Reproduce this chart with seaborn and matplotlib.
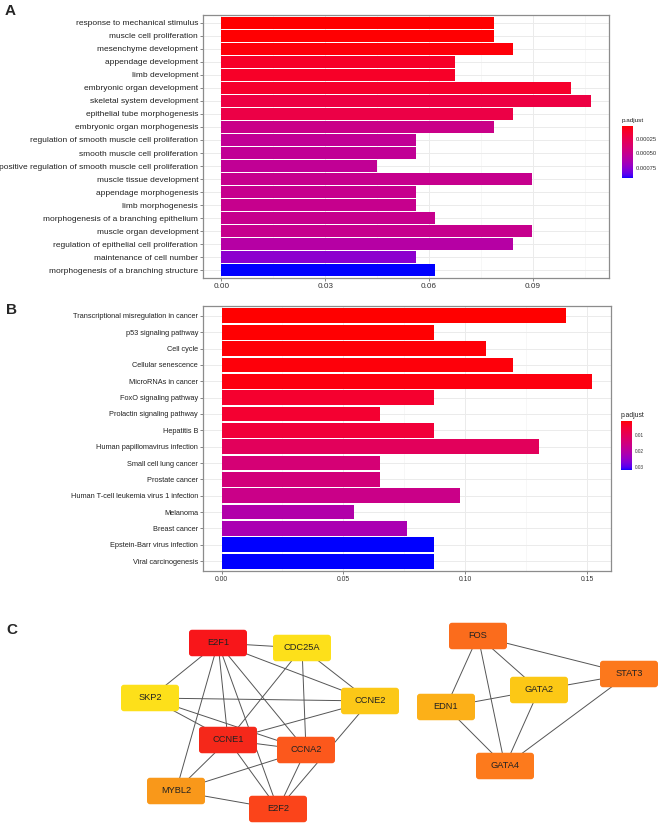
import numpy as np
import pandas as pd
import matplotlib
matplotlib.use("Agg")
import matplotlib.pyplot as plt
import seaborn as sns
from matplotlib.colors import ListedColormap, Normalize
from matplotlib.cm import ScalarMappable
from matplotlib.patches import FancyBboxPatch
from matplotlib.ticker import MultipleLocator, FormatStrFormatter

# ---- panel A: GO terms ----
go_terms = [
    "response to mechanical stimulus", "muscle cell proliferation", "mesenchyme development",
    "appendage development", "limb development", "embryonic organ development",
    "skeletal system development", "epithelial tube morphogenesis", "embryonic organ morphogenesis",
    "regulation of smooth muscle cell proliferation", "smooth muscle cell proliferation",
    "positive regulation of smooth muscle cell proliferation", "muscle tissue development",
    "appendage morphogenesis", "limb morphogenesis", "morphogenesis of a branching epithelium",
    "muscle organ development", "regulation of epithelial cell proliferation",
    "maintenance of cell number", "morphogenesis of a branching structure",
]
go_ratio = [0.0787, 0.0787, 0.0843, 0.0674, 0.0674, 0.1011, 0.1067, 0.0843, 0.0787, 0.0562,
            0.0562, 0.0449, 0.0899, 0.0562, 0.0562, 0.0618, 0.0899, 0.0843, 0.0562, 0.0618]
go_padj = [0.000035, 0.00004, 0.00005, 0.00012, 0.00012, 0.00013, 0.00021, 0.00022, 0.00048, 0.00053,
           0.00053, 0.00053, 0.0005, 0.0005, 0.0005, 0.0005, 0.0005, 0.00059, 0.00075, 0.00093]
go_padj_range = [0.000033, 0.00093]
go_cbar_ticks = [0.00025, 0.0005, 0.00075]
go_x_ticks = [0.0, 0.03, 0.06, 0.09]

# ---- panel B: KEGG pathways ----
kegg_terms = [
    "Transcriptional misregulation in cancer", "p53 signaling pathway", "Cell cycle",
    "Cellular senescence", "MicroRNAs in cancer", "FoxO signaling pathway",
    "Prolactin signaling pathway", "Hepatitis B", "Human papillomavirus infection",
    "Small cell lung cancer", "Prostate cancer", "Human T-cell leukemia virus 1 infection",
    "Melanoma", "Breast cancer", "Epstein-Barr virus infection", "Viral carcinogenesis",
]
kegg_ratio = [0.1413, 0.0870, 0.1087, 0.1196, 0.1522, 0.0870, 0.0652, 0.0870, 0.1304,
              0.0652, 0.0652, 0.0978, 0.0543, 0.0761, 0.0870, 0.0870]
kegg_padj = [0.0011, 0.0013, 0.0015, 0.0017, 0.0019, 0.0048, 0.005, 0.006, 0.0104,
             0.014, 0.0145, 0.0165, 0.021, 0.022, 0.032, 0.032]
kegg_padj_range = [0.0011, 0.032]
kegg_cbar_ticks = [0.01, 0.02, 0.03]
kegg_x_ticks = [0.0, 0.05, 0.10, 0.15]

# ---- panel C: hub gene network ----
node_names = ["E2F1", "CDC25A", "SKP2", "CCNE2", "CCNE1", "CCNA2", "MYBL2", "E2F2",
              "FOS", "STAT3", "GATA2", "EDN1", "GATA4"]
node_x = [218, 302, 150, 370, 228, 306, 176, 278, 478, 629, 539, 446, 505]
node_y = [643, 648, 698, 701, 740, 750, 791, 809, 636, 674, 690, 707, 766]
node_colors = ["#F8161A", "#FDE01A", "#FDE01A", "#FCC817", "#F5281A", "#FC581C", "#F9981A", "#FB441A",
               "#FB6C1C", "#FC781C", "#FCC815", "#FCB018", "#FD7A1C"]
edges = [
    ("E2F1", "CDC25A"), ("E2F1", "SKP2"), ("E2F1", "CCNE2"), ("E2F1", "CCNE1"), ("E2F1", "MYBL2"),
    ("E2F1", "E2F2"), ("E2F1", "CCNA2"), ("CDC25A", "CCNE1"), ("CDC25A", "CCNA2"), ("CDC25A", "CCNE2"),
    ("SKP2", "CCNE2"), ("SKP2", "CCNE1"), ("SKP2", "CCNA2"), ("CCNE2", "CCNE1"), ("CCNE2", "E2F2"),
    ("CCNE1", "CCNA2"), ("CCNE1", "MYBL2"), ("CCNE1", "E2F2"), ("CCNA2", "MYBL2"), ("CCNA2", "E2F2"),
    ("MYBL2", "E2F2"),
    ("FOS", "STAT3"), ("FOS", "EDN1"), ("FOS", "GATA4"), ("FOS", "GATA2"), ("GATA2", "STAT3"),
    ("GATA2", "EDN1"), ("GATA2", "GATA4"), ("EDN1", "GATA4"), ("STAT3", "GATA4"),
]

# red -> blue gradient interpolated in CIELAB (like ggplot's continuous fill)
_M = np.array([[0.4124, 0.3576, 0.1805], [0.2126, 0.7152, 0.0722], [0.0193, 0.1192, 0.9505]])
_WP = np.array([0.95047, 1.0, 1.08883])


def srgb_to_lab(c):
    c = np.asarray(c, float)
    lin = np.where(c <= 0.04045, c / 12.92, ((c + 0.055) / 1.055) ** 2.4)
    xyz = _M @ lin / _WP
    f = np.where(xyz > 0.008856, np.cbrt(xyz), 7.787 * xyz + 16 / 116)
    return np.array([116 * f[1] - 16, 500 * (f[0] - f[1]), 200 * (f[1] - f[2])])


def lab_to_srgb(lab):
    L, a, b = lab
    fy = (L + 16) / 116
    f = np.array([fy + a / 500, fy, fy - b / 200])
    xyz = np.where(f ** 3 > 0.008856, f ** 3, (f - 16 / 116) / 7.787) * _WP
    lin = np.clip(np.linalg.inv(_M) @ xyz, 0, 1)
    c = np.where(lin <= 0.0031308, 12.92 * lin, 1.055 * lin ** (1 / 2.4) - 0.055)
    return np.clip(c, 0, 1)


lab_lo, lab_hi = srgb_to_lab([1, 0, 0]), srgb_to_lab([0, 0, 1])
cmap = ListedColormap([lab_to_srgb(lab_lo + t * (lab_hi - lab_lo)) for t in np.linspace(0, 1, 256)])

sns.set_style("white")
plt.rcParams["font.family"] = ["Liberation Sans", "DejaVu Sans"]

fig = plt.figure(figsize=(6.6, 8.24), dpi=100)


def enrich_bar(ax, cax, terms, ratio, padj, prange, cbar_ticks, x_ticks,
               lab_size, xt_size, cb_size, title_size):
    norm = Normalize(*prange)
    df = pd.DataFrame({"term": terms, "ratio": ratio})
    pal = {t: cmap(norm(p)) for t, p in zip(terms, padj)}
    ax.set_axisbelow(True)
    sns.barplot(data=df, x="ratio", y="term", hue="term", palette=pal, legend=False,
                width=0.9, saturation=1, linewidth=0, ax=ax)
    n = len(terms)
    top = max(ratio)
    ax.set_ylim(n - 1 + 0.6, -0.6)
    ax.set_xlim(-0.05 * top, 1.05 * top)
    ax.set_xticks(x_ticks)
    ax.xaxis.set_major_formatter(FormatStrFormatter("%.2f"))
    step = x_ticks[1] - x_ticks[0]
    ax.xaxis.set_minor_locator(MultipleLocator(step / 2))
    ax.grid(which="major", color="#EBEBEB", lw=0.7)
    ax.grid(which="minor", axis="x", color="#F4F4F4", lw=0.5)
    ax.set_xlabel("")
    ax.set_ylabel("")
    ax.tick_params(axis="y", labelsize=lab_size, length=2, width=0.5, color="#555555",
                   labelcolor="#222222", pad=1.5, left=True)
    ax.tick_params(axis="x", labelsize=xt_size, length=2, width=0.5, color="#555555",
                   labelcolor="#333333", pad=1.5, bottom=True)
    ax.tick_params(which="minor", length=0)
    for s in ax.spines.values():
        s.set_color("#8C8C8C")
        s.set_linewidth(0.9)

    cb = fig.colorbar(ScalarMappable(norm=norm, cmap=cmap), cax=cax)
    cb.outline.set_visible(False)
    cb.set_ticks(cbar_ticks)
    cb.ax.yaxis.set_major_formatter(FormatStrFormatter("%.5f" if cbar_ticks[0] < 0.001 else "%.2f"))
    cax.tick_params(direction="in", length=2.5, width=0.5, color="white", left=True, right=True,
                    labelsize=cb_size, labelcolor="#333333", pad=2)
    cax.invert_yaxis()
    cax.set_title("p.adjust", loc="left", fontsize=title_size, color="#222222", pad=3)


W, H = 660, 824


def box(x0, y0, x1, y1):
    return [x0 / W, 1 - y1 / H, (x1 - x0) / W, (y1 - y0) / H]


ax_a = fig.add_axes(box(203, 15, 609, 278))
cax_a = fig.add_axes(box(622, 126, 633, 178))
enrich_bar(ax_a, cax_a, go_terms, go_ratio, go_padj, go_padj_range, go_cbar_ticks, go_x_ticks,
           6.0, 5.9, 4.2, 4.6)

ax_b = fig.add_axes(box(203, 306, 611, 571))
cax_b = fig.add_axes(box(621, 421, 632, 470))
enrich_bar(ax_b, cax_b, kegg_terms, kegg_ratio, kegg_padj, kegg_padj_range, kegg_cbar_ticks, kegg_x_ticks,
           5.3, 4.9, 3.4, 4.9)

# network panel, data units = image pixels
ax_c = fig.add_axes(box(0, 580, 660, 824))
ax_c.set_xlim(0, W)
ax_c.set_ylim(824, 580)
ax_c.axis("off")
pos = {n: (x, y) for n, x, y in zip(node_names, node_x, node_y)}
for a, b in edges:
    ax_c.plot([pos[a][0], pos[b][0]], [pos[a][1], pos[b][1]], color="#555555", lw=0.7, zorder=1)
bw, bh, r = 58, 26.5, 3
for n, c in zip(node_names, node_colors):
    x, y = pos[n]
    ax_c.add_patch(FancyBboxPatch((x - bw / 2 + r, y - bh / 2 + r), bw - 2 * r, bh - 2 * r,
                                  boxstyle=f"round,pad={r}", fc=c, ec="none", zorder=2))
    ax_c.text(x, y, n, ha="center", va="center", fontsize=6.7, color="#222222", zorder=3)

for lab, (x, y) in zip("ABC", [(5, 11), (6, 310), (6, 630)]):
    fig.text(x / W, 1 - y / H, lab, fontsize=11, fontweight="bold", va="center", ha="left")

fig.savefig("out.png", dpi=100)
